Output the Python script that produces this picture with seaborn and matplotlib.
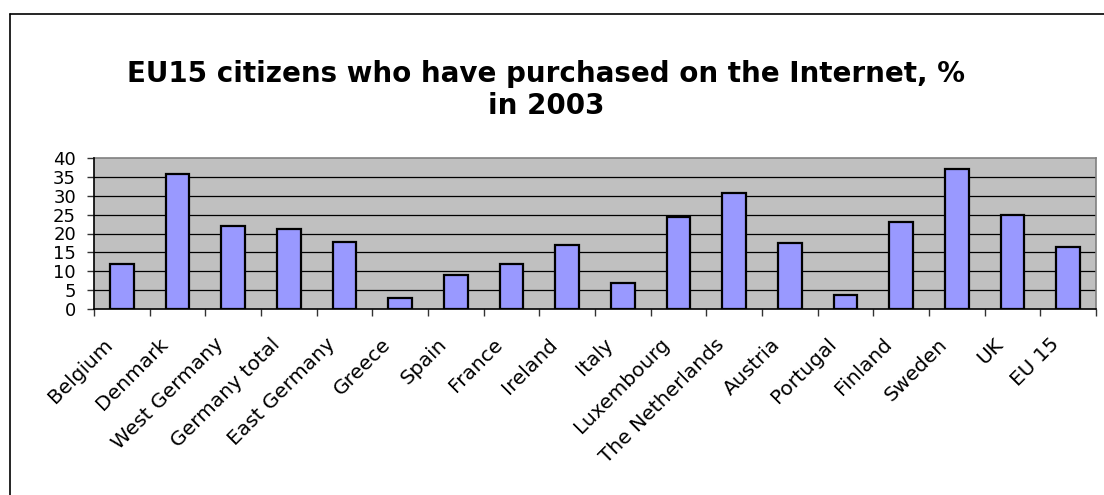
import matplotlib
matplotlib.use("Agg")
import matplotlib.pyplot as plt
from matplotlib.lines import Line2D
from matplotlib.transforms import ScaledTranslation
import seaborn as sns
import pandas as pd
import numpy as np

countries = ["Belgium", "Denmark", "West Germany", "Germany total", "East Germany",
             "Greece", "Spain", "France", "Ireland", "Italy", "Luxembourg",
             "The Netherlands", "Austria", "Portugal", "Finland", "Sweden", "UK", "EU 15"]
shares = [11.8, 35.8, 22.0, 21.1, 17.7, 2.9, 9.0, 11.9, 17.0, 7.0, 24.5,
          30.6, 17.4, 3.6, 23.1, 37.0, 24.8, 16.5]
y_ticks = [0, 5, 10, 15, 20, 25, 30, 35, 40]
title = "EU15 citizens who have purchased on the Internet, %\nin 2003"

df = pd.DataFrame({"country": countries, "share": shares})

sns.set_theme(style="white")
plt.rcParams["font.family"] = ["DejaVu Sans"]
plt.rcParams["text.color"] = "black"
plt.rcParams["xtick.color"] = "black"
plt.rcParams["ytick.color"] = "black"

W, H = 1104, 495
fig = plt.figure(figsize=(W / 100, H / 100), dpi=100)
ax = fig.add_axes([94 / W, 1 - 309 / H, (1096 - 94) / W, (309 - 158) / H])

sns.barplot(data=df, x="country", y="share", ax=ax, color="#9999ff",
            saturation=1, width=0.42, edgecolor="black", linewidth=1.6, zorder=3)

ax.set_facecolor("#c0c0c0")
ax.set_ylim(0, 40)
ax.set_xlim(-0.5, len(countries) - 0.5)
ax.set_yticks(y_ticks)
ax.set_yticklabels([str(v) for v in y_ticks], fontsize=13)
for v in y_ticks[1:-1]:
    ax.axhline(v, color="black", linewidth=0.9, zorder=1)

# category labels at bar centres, tick marks on category boundaries
ax.set_xticks(np.arange(len(countries)))
ax.set_xticklabels(countries, fontsize=14.5, rotation=45, ha="right",
                   va="top", rotation_mode="anchor")
ax.tick_params(axis="x", which="major", length=0, pad=12)
shift = ScaledTranslation(-0.19, -0.09, fig.dpi_scale_trans)
for lab in ax.get_xticklabels():
    lab.set_transform(lab.get_transform() + shift)
ax.set_xticks(np.arange(len(countries) + 1) - 0.5, minor=True)
ax.tick_params(axis="x", which="minor", length=5, width=1, color="#333333",
               direction="out", bottom=True)
ax.tick_params(axis="y", length=5, width=1, color="#333333", direction="out",
               left=True, pad=8)

ax.set_xlabel("")
ax.set_ylabel("")

for side in ["top", "right"]:
    ax.spines[side].set_color("#808080")
    ax.spines[side].set_linewidth(1.2)
for side in ["left", "bottom"]:
    ax.spines[side].set_color("black")
    ax.spines[side].set_linewidth(1.2)
    ax.spines[side].set_zorder(5)

fig.text(546 / W, 1 - 90 / H, title, ha="center", va="center",
         fontsize=20, fontweight="bold", linespacing=1.2)

# chart frame
fig.add_artist(Line2D([10 / W, 1], [1 - 14 / H, 1 - 14 / H], color="black", linewidth=1.2))
fig.add_artist(Line2D([10 / W, 10 / W], [0, 1 - 14 / H], color="black", linewidth=1.2))

fig.savefig("out.png", dpi=100, facecolor="white")
